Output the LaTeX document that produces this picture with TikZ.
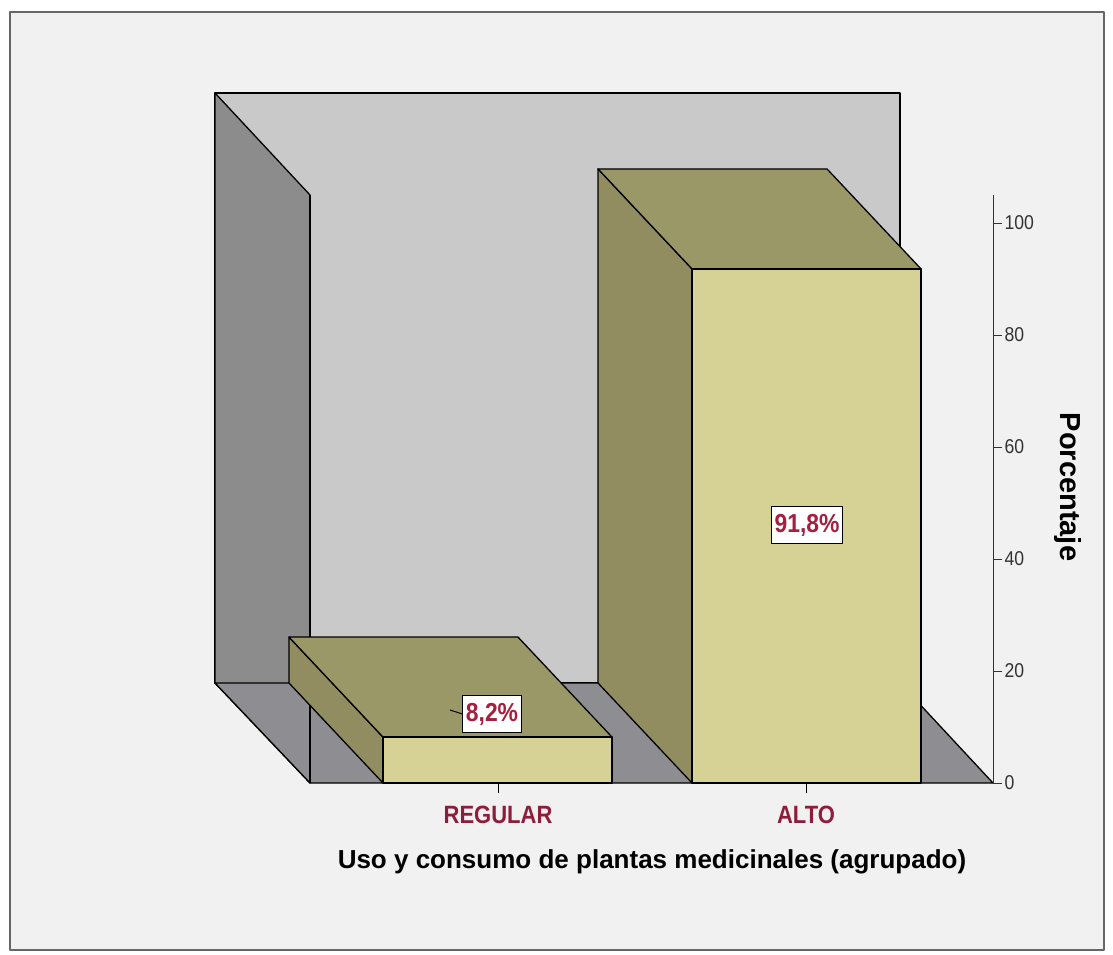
\documentclass[tikz,border=0pt]{standalone}
\usepackage{fontspec}
\setmainfont{Liberation Sans}
\newfontfamily\narrowfont{Liberation Sans}[FakeStretch=0.88]
\definecolor{bggray}{HTML}{F1F1F1}
\definecolor{wallback}{HTML}{C9C9C9}
\definecolor{wallside}{HTML}{8C8C8C}
\definecolor{floorgray}{HTML}{8E8E92}
\definecolor{bartop}{HTML}{9B9868}
\definecolor{barside}{HTML}{918D60}
\definecolor{barfront}{HTML}{D6D295}
\definecolor{labred}{HTML}{A3203E}
\definecolor{catred}{HTML}{8E1C3A}
\begin{document}
\begin{tikzpicture}[x=1pt, y=-1pt, line join=round,
    face/.style={draw=black, line width=1.3pt},
    valbox/.style={draw=black, fill=white, line width=1pt, inner xsep=3pt, inner ysep=7pt,
        font=\narrowfont\bfseries\fontsize{26}{26}\selectfont, text=labred},
    catlab/.style={font=\narrowfont\bfseries\fontsize{25}{25}\selectfont, text=catred},
    ticklab/.style={font=\narrowfont\fontsize{20}{20}\selectfont, anchor=west, inner sep=2pt}]
\useasboundingbox (0,0) rectangle (1113,954);
\fill[white] (0,0) rectangle (1113,954);
\draw[draw=black!60, fill=bggray, line width=1.5pt] (10,12) rectangle (1104,950);

% walls and floor
\filldraw[face, fill=wallback] (215,93) rectangle (900,683);
\filldraw[face, fill=wallside] (215,93)--(310,195)--(310,783)--(215,683)--cycle;
\filldraw[face, fill=floorgray] (215,683)--(900,683)--(993,783)--(310,783)--cycle;
\draw[face] (310,195)--(310,783);

% bars: left edge / value
\foreach \xl/\val in {383/8.2, 692/91.8}{
    \pgfmathsetmacro{\yt}{783-5.6*\val}
    \filldraw[face, fill=barside] (\xl-94,\yt-100)--(\xl,\yt)--(\xl,783)--(\xl-94,683)--cycle;
    \filldraw[face, fill=bartop] (\xl-94,\yt-100)--(\xl+135,\yt-100)--(\xl+229,\yt)--(\xl,\yt)--cycle;
    \filldraw[face, fill=barfront] (\xl,\yt) rectangle (\xl+229,783);
}

% value labels
\node[valbox] (v2) at (807,525) {91,8\%};
\node[valbox] (v1) at (492,714) {8,2\%};
\coordinate (v1l) at (450,710);
\draw[line width=1pt] (v1l)--(v1.west);

% axis
\draw[line width=1pt, black!80] (993,195)--(993,783);
\foreach \v in {0,20,...,100}
    \draw[line width=1pt, black!80] (993,{783-5.6*\v})--++(9,0) node[ticklab] (t\v) {\v};
\node[rotate=-90, font=\bfseries\fontsize{29}{29}\selectfont] (ylab) at (1068,487) {Porcentaje};

% categories
\draw[line width=1pt] (498,783)--(498,793);
\draw[line width=1pt] (806,783)--(806,793);
\node[catlab] (reg) at (498,815) {REGULAR};
\node[catlab] (alto) at (806,815) {ALTO};
\node[font=\bfseries\fontsize{26}{26}\selectfont] (xlab) at (652,862) {Uso y consumo de plantas medicinales (agrupado)};

\end{tikzpicture}
\end{document}
